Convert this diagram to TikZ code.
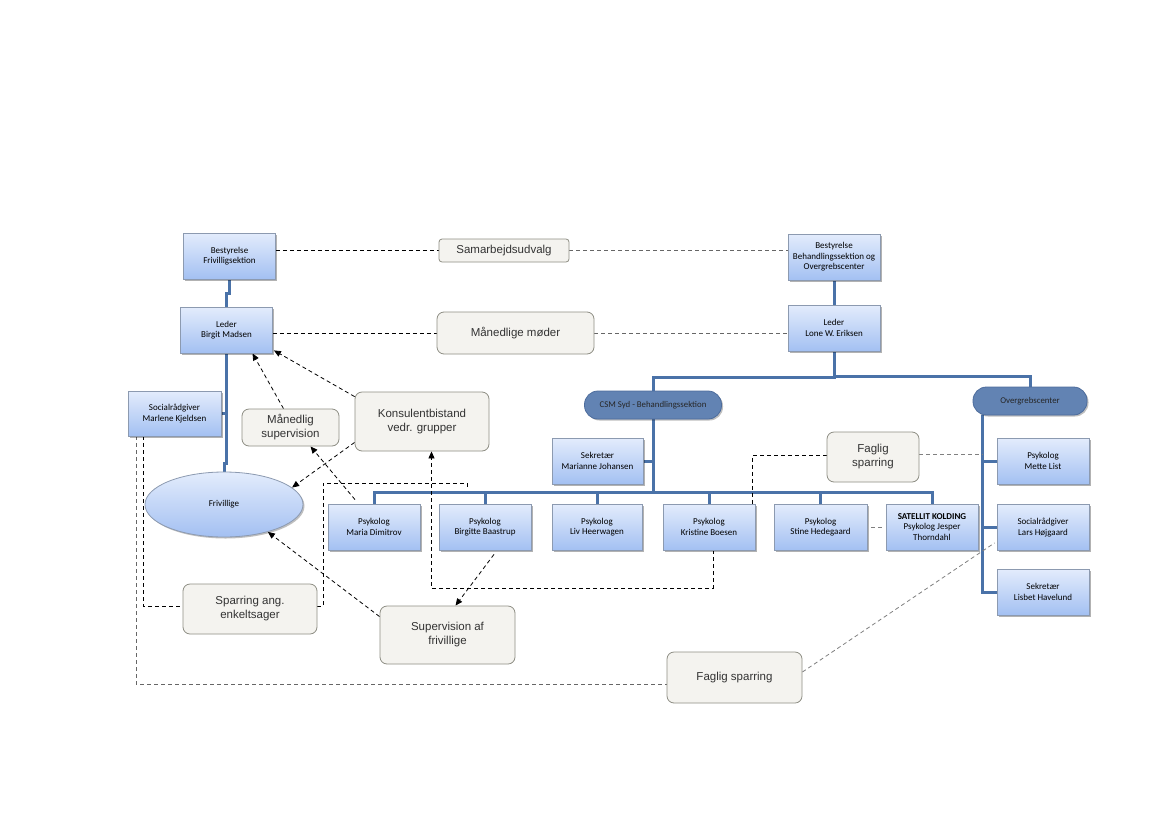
\documentclass[tikz,border=0pt]{standalone}
\usepackage{fontspec}
\setmainfont{Liberation Sans}
\newfontfamily\boxfont{Carlito}
\usetikzlibrary{shapes.geometric,arrows.meta,shadows,backgrounds,calc}
\definecolor{boxtop}{HTML}{E3ECFC}
\definecolor{boxbot}{HTML}{A3C0F2}
\definecolor{boxline}{HTML}{8C9AB0}
\definecolor{orgblue}{HTML}{4A72A8}
\definecolor{callfill}{HTML}{F4F3EF}
\definecolor{callline}{HTML}{8E8E84}
\definecolor{pillfill}{HTML}{6283B3}
\definecolor{pillline}{HTML}{4D6C9C}
\definecolor{txtgray}{HTML}{333333}
\tikzset{
  orgbox/.style={rectangle, draw=boxline, line width=0.8pt, top color=boxtop, bottom color=boxbot,
    minimum width=92pt, minimum height=46pt, inner sep=1pt, align=center,
    font=\boxfont\fontsize{9}{10.5}\selectfont,
    drop shadow={shadow xshift=1.5pt, shadow yshift=-1.5pt, fill=black, opacity=0.3}},
  callout/.style={rectangle, rounded corners=7pt, draw=callline, line width=0.8pt, fill=callfill,
    align=center, inner sep=2pt, text=txtgray, font=\fontsize{11.5}{14}\selectfont},
  pill/.style={rectangle, rounded corners=13.5pt, draw=pillline, fill=pillfill, line width=0.8pt,
    minimum height=28pt, inner sep=2pt, font=\boxfont\fontsize{8.8}{10}\selectfont, text=black!85,
    drop shadow={shadow xshift=1.5pt, shadow yshift=-1.5pt, fill=black, opacity=0.25}},
  org/.style={draw=orgblue, line width=3pt},
  dsh/.style={draw=black, line width=0.8pt, dash pattern=on 4pt off 3pt},
  gdsh/.style={draw=black!50, line width=0.8pt, dash pattern=on 4pt off 3pt},
  arr/.style={-{Triangle[length=7pt,width=6pt]}},
}
\begin{document}
\begin{tikzpicture}[x=1pt,y=-1pt]
\useasboundingbox (0,0) rectangle (1169,827);

% top row
\node[orgbox] (bf) at (229.5,256) {Bestyrelse\\Frivilligsektion};
\node[callout, rounded corners=3pt, minimum width=130pt, minimum height=23pt] (samar) at (504,250.5) {Samarbejdsudvalg};
\node[orgbox] (bb) at (834,257) {Bestyrelse\\Behandlingssektion og\\Overgrebscenter};
\node[orgbox] (lb) at (226.5,330) {Leder\\Birgit Madsen};
\node[callout, minimum width=157pt, minimum height=42pt] (mm) at (515.5,333) {Månedlige møder};
\node[orgbox] (ll) at (834,328) {Leder\\Lone W. Eriksen};

% sections
\node[pill, minimum width=137pt] (csm) at (653,405) {CSM Syd - Behandlingssektion};
\node[pill, minimum width=114pt] (og) at (1030,401) {Overgrebscenter};

\node[orgbox, minimum width=93pt, minimum height=45pt] (sm) at (174.5,413.5) {Socialrådgiver\\Marlene Kjeldsen};
\node[callout, minimum width=97pt, minimum height=37pt] (msup) at (290.5,427.5) {Månedlig\\supervision};
\node[callout, minimum width=134pt, minimum height=59pt] (kons) at (422,421.5) {Konsulentbistand\\vedr. grupper};
\node[orgbox, minimum width=91pt] (sek1) at (597.5,461) {Sekretær\\Marianne Johansen};
\node[callout, minimum width=92pt, minimum height=50pt] (fs1) at (873,457) {Faglig\\sparring};
\node[orgbox] (mette) at (1043,461) {Psykolog\\Mette List};

\node[ellipse, draw=boxline, line width=0.8pt, top color=boxtop, bottom color=boxbot,
  minimum width=158pt, minimum height=65pt, inner sep=0pt, font=\boxfont\fontsize{9}{10.5}\selectfont,
  drop shadow={shadow xshift=1.5pt, shadow yshift=-1.5pt, fill=black, opacity=0.25}] (friv) at (224,504.5) {Frivillige};

% psykolog row
\node[orgbox] (maria) at (374,527) {Psykolog\\Maria Dimitrov};
\node[orgbox] (birg) at (485,527) {Psykolog\\Birgitte Baastrup};
\node[orgbox, minimum width=90pt] (liv) at (597,527) {Psykolog\\Liv Heerwagen};
\node[orgbox] (kris) at (709,527) {Psykolog\\Kristine Boesen};
\node[orgbox, minimum width=93pt] (stine) at (820.5,527) {Psykolog\\Stine Hedegaard};
\node[orgbox] (sat) at (932,527) {\textbf{SATELLIT KOLDING}\\Psykolog Jesper\\Thorndahl};
\node[orgbox] (lars) at (1043,527.5) {Socialrådgiver\\Lars Højgaard};
\node[orgbox] (lisbet) at (1043,592) {Sekretær\\Lisbet Havelund};

% bottom callouts
\node[callout, minimum width=134pt, minimum height=50pt] (spar) at (250,609) {Sparring ang.\\enkeltsager};
\node[callout, minimum width=135pt, minimum height=58pt] (supf) at (447.5,635) {Supervision af\\frivillige};
\node[callout, minimum width=135pt, minimum height=51pt] (fs2) at (734.5,677.5) {Faglig sparring};

\coordinate (ogx) at ([xshift=10pt]og.south west);
\coordinate (sparEnd) at (467,489);

\begin{scope}[on background layer]
\fill[white] (0,0) rectangle (1169,827);
% organisation lines
\draw[org] (bf.south) -- ++(0,14) -| (lb.north);
\draw[org] (lb.south) -- ++(0,110) -| (friv.north);
\draw[org] (sm.east) -- (sm.east -| lb.south);
\draw[org] (bb.south) -- (ll.north);
\draw[org] (ll.south) -- ++(0,26) -| (csm.north);
\draw[org] (ll.south) -- ++(0,25) -| (og.north);
\draw[org] (csm.south) -- ++(0,74);
\draw[org] (sek1.east) -- (sek1.east -| csm.south);
\draw[org] (maria.north) -- ++(0,-11) -| (sat.north);
\foreach \n in {birg,liv,kris,stine} \draw[org] (\n.north) -- ++(0,-11);
\draw[org] (ogx) |- (lisbet.west);
\draw[org] (mette.west) -- (mette.west -| ogx);
\draw[org] (lars.west) -- (lars.west -| ogx);

% dashed relations
\draw[dsh] (samar.west -| bf.east) -- (samar.west);
\draw[dsh, draw=black!60] (samar.east) -- (samar.east -| bb.west);
\draw[dsh] (mm.west -| lb.east) -- (mm.west);
\draw[dsh, draw=black!60] (mm.east) -- (mm.east -| ll.west);
\draw[dsh,arr] ([xshift=-7pt]msup.north) -- ([xshift=26pt]lb.south);
\draw[dsh,arr] ([yshift=-5pt]kons.north west) -- ([shift={(1,-3)}]lb.south east);
\draw[dsh,arr] ([yshift=9pt]kons.south west) -- (friv.14);
\draw[dsh,arr] ([shift={(-19,-4)}]maria.north) -- ([xshift=20pt]msup.south);
\draw[dsh,arr] ([yshift=-11pt]supf.north west) -- (friv.-32);
\draw[dsh,arr] ([shift={(9,4)}]birg.south) -- ([xshift=8pt]supf.north);
\draw[dsh,arr] ([xshift=4pt]kris.south) -- ++(0,38) -| ([xshift=9.5pt]kons.south);
\draw[dsh] ([yshift=3pt]spar.east) -- ++(6,0) |- ($(sparEnd)+(0,-6)$) -- (sparEnd);
\draw[dsh] ([xshift=-31.5pt]sm.south) |- ([yshift=3pt]spar.west);
\draw[dsh, draw=black!60] ([xshift=-38.5pt]sm.south) |- ([yshift=-6.5pt]fs2.west);
\draw[gdsh] ([yshift=5.5pt]fs2.east) -- ([shift={(-2,-8)}]lars.south west);
\draw[dsh] ([yshift=2pt]fs1.west) -| ([xshift=-3pt]kris.north east);
\draw[gdsh] ([yshift=3pt]fs1.east) -- ([yshift=3pt]fs1.east -| ogx);
\draw[gdsh, shorten <=4pt, shorten >=3pt] (stine.east) -- (sat.west);
\end{scope}
\end{tikzpicture}
\end{document}
